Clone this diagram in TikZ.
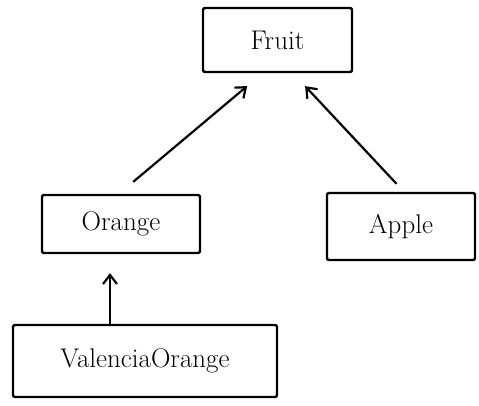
\documentclass[tikz,border=0pt]{standalone}
\usetikzlibrary{arrows.meta}
\begin{document}
\begin{tikzpicture}[x=1pt,y=-1pt,
  cls/.style={draw=black, line width=2.4pt, rounded corners=2pt, inner sep=0pt,
    font=\fontsize{27}{31}\selectfont},
  arr/.style={line width=2.2pt, -{Straight Barb[length=9pt,width=14pt,line width=2.2pt]}}]
\useasboundingbox (0,0) rectangle (479,406);
\node[cls, minimum width=149pt, minimum height=64pt] (fruit) at (277.5,40) {Fruit};
\node[cls, minimum width=158pt, minimum height=58pt] (orange) at (121,224) {Orange};
\node[cls, minimum width=148pt, minimum height=67pt] (apple) at (401,226.5) {Apple};
\node[cls, minimum width=264pt, minimum height=72pt] (valencia) at (145,361) {ValenciaOrange};
\draw[arr, shorten <=18.5pt, shorten >=20pt] ([xshift=-2pt]orange.north) -- ([xshift=-15pt]fruit.south);
\draw[arr, shorten <=11pt, shorten >=17.7pt] ([xshift=3pt]apple.north) -- ([xshift=15.5pt]fruit.south);
\draw[arr, shorten >=19pt] ([xshift=-35pt]valencia.north) -- ([xshift=-35pt]valencia.north |- orange.south);
\end{tikzpicture}
\end{document}
